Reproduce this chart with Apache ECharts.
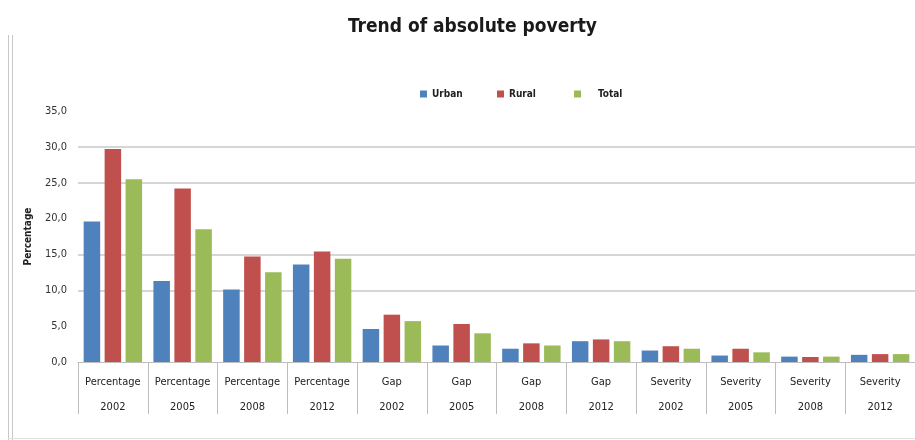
<!DOCTYPE html>
<html>
<head>
<meta charset="utf-8">
<script src="https://cdn.jsdelivr.net/npm/echarts@6/dist/echarts.min.js"></script>
<style>
html,body{margin:0;padding:0;background:#fff;}
#chart{width:915px;height:440px;}
</style>
</head>
<body>
<div id="chart"></div>
<script>
var categories = ["Percentage\n2002","Percentage\n2005","Percentage\n2008","Percentage\n2012",
  "Gap\n2002","Gap\n2005","Gap\n2008","Gap\n2012",
  "Severity\n2002","Severity\n2005","Severity\n2008","Severity\n2012"];
var urban = [19.6, 11.3, 10.1, 13.6, 4.6, 2.3, 1.85, 2.9, 1.6, 0.9, 0.75, 1.0];
var rural = [29.7, 24.2, 14.7, 15.4, 6.6, 5.3, 2.6, 3.15, 2.2, 1.85, 0.7, 1.1];
var total = [25.5, 18.5, 12.5, 14.4, 5.7, 4.0, 2.3, 2.9, 1.85, 1.35, 0.75, 1.1];
var seriesNames = ["Urban","Rural","Total"];
var yTicks = [0, 5, 10, 15, 20, 25, 30, 35];

var narrow = "'Liberation Sans Narrow','DejaVu Sans Condensed','Noto Sans',sans-serif";
var chart = echarts.init(document.getElementById('chart'), null, {renderer:'canvas'});
var colors = ['#4F81BD','#C0504D','#9BBB59'];
var data = [urban, rural, total];
var legendLefts = [415, 492, 569];
var legendPads = [[0,0,0,0],[0,0,0,0],[0,0,0,12]];

chart.setOption({
  animation: false,
  color: colors,
  title: {
    text: 'Trend of absolute poverty',
    left: 343,
    top: 13,
    textStyle: {fontFamily: narrow, fontWeight: 'bold', fontSize: 19, color: '#1a1a1a'}
  },
  legend: seriesNames.map(function(n, i){
    return {
      left: legendLefts[i], top: 84,
      itemWidth: 7, itemHeight: 7, itemGap: 5,
      icon: 'rect',
      data: [n],
      textStyle: {fontFamily: narrow, fontWeight: 'bold', fontSize: 10, color: '#222', padding: legendPads[i]}
    };
  }),
  grid: {left: 78, right: -3, top: 111, bottom: 78, containLabel: false},
  xAxis: {
    type: 'category',
    data: categories,
    axisLine: {lineStyle: {color: '#bdbdbd', width: 1}},
    axisTick: {show: true, interval: 0, length: 52, lineStyle: {color: '#bdbdbd'}},
    axisLabel: {interval: 0, margin: 8, lineHeight: 25, fontFamily: narrow, fontSize: 11, color: '#222'}
  },
  yAxis: {
    type: 'value',
    min: yTicks[0], max: yTicks[yTicks.length-1], interval: 5,
    name: 'Percentage',
    nameLocation: 'middle',
    nameGap: 45,
    nameTextStyle: {fontFamily: narrow, fontWeight: 'bold', fontSize: 10, color: '#222'},
    axisLine: {show: false},
    axisTick: {show: false},
    axisLabel: {margin: 11, fontFamily: narrow, fontSize: 11, color: '#333',
      formatter: function(v){ return v.toFixed(1).replace('.', ','); }},
    splitLine: {show: true, lineStyle: {color: ['rgba(0,0,0,0)','rgba(0,0,0,0)','#c8c8c8','#c8c8c8','rgba(0,0,0,0)','#c8c8c8','#c8c8c8','rgba(0,0,0,0)'], width: 1.5}}
  },
  series: seriesNames.map(function(n, i){
    return {name: n, type: 'bar', data: data[i], barWidth: 16.5, barGap: '27%'};
  }),
  graphic: [
    {type:'line', shape:{x1:8.5,y1:35,x2:8.5,y2:440}, style:{stroke:'#c8c8c8', lineWidth:1}},
    {type:'line', shape:{x1:12.5,y1:35,x2:12.5,y2:440}, style:{stroke:'#c8c8c8', lineWidth:1}},
    {type:'line', shape:{x1:8,y1:438.5,x2:915,y2:438.5}, style:{stroke:'#e0e0e0', lineWidth:1}}
  ]
});
</script>
</body>
</html>
